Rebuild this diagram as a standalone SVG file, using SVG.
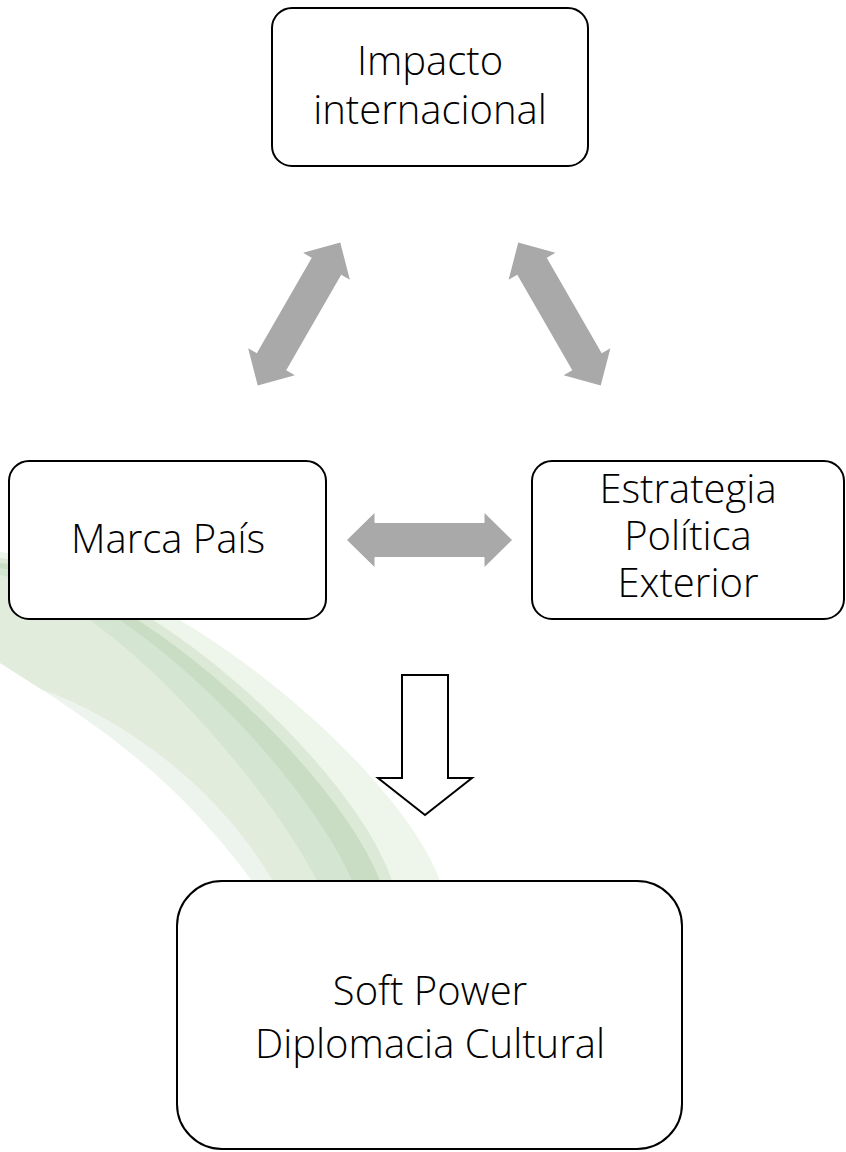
<svg xmlns="http://www.w3.org/2000/svg" width="846" height="1152" viewBox="0 0 846 1152">
  <style>
    .box { fill: #ffffff; stroke: #000000; stroke-width: 2; }
    .lbl { font-family: "Open Sans", "Noto Sans", "Liberation Sans", sans-serif; font-weight: 300; font-size: 40px; fill: #000000; text-anchor: middle; }
    .dbl { fill: #a9a9a9; }
    .blk { fill: #ffffff; stroke: #000000; stroke-width: 2; stroke-linejoin: miter; }
  </style>
  <defs>
    <path id="dblArrow" d="M-82.5,0 L-55,-27 L-55,-17 L55,-17 L55,-27 L82.5,0 L55,27 L55,17 L-55,17 L-55,27 Z"/>
  </defs>
  <rect width="846" height="1152" fill="#ffffff"/>
  <g id="swoosh">
    <path d="M0,552 C170,570 400,770 440,881 L0,881 Z" fill="#eef5eb"/>
    <path d="M0,558 C150,575 355,770 392,881 L0,881 Z" fill="#dbe9d6"/>
    <path d="M0,563 C140,580 340,775 380,881 L0,881 Z" fill="#c9ddc5"/>
    <path d="M0,568 C130,585 310,780 352,881 L0,881 Z" fill="#d4e5d1"/>
    <path d="M0,575 C100,595 260,770 317,881 L0,881 Z" fill="#e1ecdc"/>
    <path d="M0,677 C100,700 210,775 273,881 L0,881 Z" fill="#edf4ee"/>
    <path d="M0,663 C90,720 170,770 252,881 L0,881 Z" fill="#ffffff"/>
  </g>
  <g id="connectors">
    <use href="#dblArrow" class="dbl" transform="translate(299,314) rotate(-60)"/>
    <use href="#dblArrow" class="dbl" transform="translate(559.5,314) rotate(60)"/>
    <use href="#dblArrow" class="dbl" transform="translate(429.5,540)"/>
    <polygon class="blk" points="402,675 448,675 448,778 472,778 425,815 378,778 402,778"/>
  </g>
  <g id="node-impacto">
    <rect class="box" x="272" y="8" width="316" height="158" rx="20"/>
    <text class="lbl" x="430" y="75">Impacto</text>
    <text class="lbl" x="430" y="124">internacional</text>
  </g>
  <g id="node-marca">
    <rect class="box" x="9" y="461" width="317" height="158" rx="20"/>
    <text class="lbl" x="168" y="553">Marca País</text>
  </g>
  <g id="node-estrategia">
    <rect class="box" x="532" y="461" width="312" height="158" rx="20"/>
    <text class="lbl" x="688" y="503">Estrategia</text>
    <text class="lbl" x="688" y="550">Política</text>
    <text class="lbl" x="688" y="597">Exterior</text>
  </g>
  <g id="node-softpower">
    <rect class="box" x="177" y="881" width="505" height="268" rx="45"/>
    <text class="lbl" x="430" y="1005">Soft Power</text>
    <text class="lbl" x="430" y="1058">Diplomacia Cultural</text>
  </g>
</svg>
